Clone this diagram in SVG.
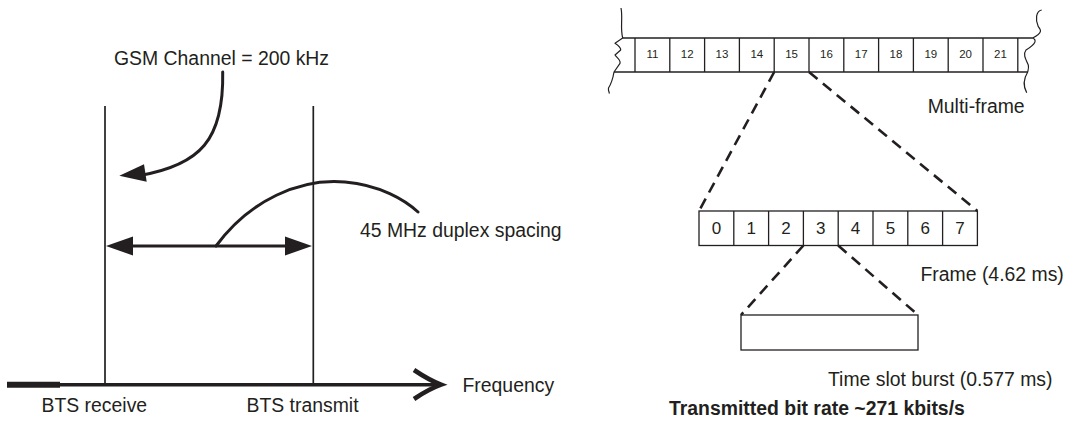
<svg xmlns="http://www.w3.org/2000/svg" width="1066" height="430" viewBox="0 0 1066 430">
  <style>
    text { font-family: "Liberation Sans", Arial, Helvetica, sans-serif; fill: #231f20; }
    .lbl { font-size: 19.4px; }
    .bold { font-size: 19.4px; font-weight: bold; }
    .mf { font-size: 11.5px; text-anchor: middle; }
    .fr { font-size: 17px; text-anchor: middle; }
    .thin { fill: none; stroke: #231f20; stroke-width: 1.3; }
    .wave { fill: none; stroke: #231f20; stroke-width: 1.2; stroke-linejoin: round; }
    .vline { stroke: #231f20; stroke-width: 1.7; }
    .dash { stroke: #231f20; stroke-width: 2.6; stroke-dasharray: 11 7; fill: none; }
    .curve { fill: none; stroke: #231f20; stroke-width: 3; stroke-linecap: round; }
    .head { fill: #231f20; }
  </style>

  <!-- Left: carrier spacing on the frequency axis -->
  <g id="bts-receive">
    <line class="vline" x1="105" y1="106" x2="105" y2="385"/>
    <text class="lbl" x="41.5" y="412">BTS receive</text>
  </g>
  <g id="bts-transmit">
    <line class="vline" x1="313.3" y1="106" x2="313.3" y2="385"/>
    <text class="lbl" x="246.5" y="412">BTS transmit</text>
  </g>
  <g id="frequency-axis">
    <line x1="7" y1="384.7" x2="60" y2="384.7" stroke="#231f20" stroke-width="6"/>
    <line x1="58" y1="384.7" x2="438" y2="384.7" stroke="#231f20" stroke-width="3.6"/>
    <path d="M414,370 Q429,380 441,384.7 Q429,389 414,399" fill="none" stroke="#231f20" stroke-width="4.6" stroke-linecap="butt" stroke-linejoin="miter"/>
    <text class="lbl" x="462.5" y="392">Frequency</text>
  </g>
  <g id="gsm-channel-label">
    <text class="lbl" x="114" y="65">GSM Channel = 200 kHz</text>
  </g>
  <g id="duplex-label">
    <text class="lbl" x="360" y="237">45 MHz duplex spacing</text>
  </g>

  <!-- Right: multi-frame / frame / burst -->
  <g id="multi-frame">
    <line class="thin" x1="622.7" y1="38" x2="1032.7" y2="38"/>
    <line class="thin" x1="614" y1="72" x2="1027.7" y2="72"/>
    <g class="thin">
      <line x1="635" y1="38" x2="635" y2="72"/>
      <line x1="669.8" y1="38" x2="669.8" y2="72"/>
      <line x1="704.6" y1="38" x2="704.6" y2="72"/>
      <line x1="739.4" y1="38" x2="739.4" y2="72"/>
      <line x1="774.2" y1="38" x2="774.2" y2="72"/>
      <line x1="809" y1="38" x2="809" y2="72"/>
      <line x1="843.8" y1="38" x2="843.8" y2="72"/>
      <line x1="878.6" y1="38" x2="878.6" y2="72"/>
      <line x1="913.4" y1="38" x2="913.4" y2="72"/>
      <line x1="948.2" y1="38" x2="948.2" y2="72"/>
      <line x1="983" y1="38" x2="983" y2="72"/>
      <line x1="1017.8" y1="38" x2="1017.8" y2="72"/>
    </g>
    <path class="wave" d="M621,8 C623,18 620,28 622.7,38 L615,43.3 C619,46 621,48 620.7,50 L615,55 C617,58 621,60 620,63.3 L614,72 C613,78 611,84 608.5,88 C608,90 609,92 609.5,93.5"/>
    <path class="wave" d="M1041.7,10 C1036,11 1035,20 1038.3,26.7 C1041,30 1043,33 1032.7,38 C1037,40 1036,44 1026,50 C1023,54 1025,58 1028.3,65 C1029,68 1028,70 1027.7,72 C1024,78 1023,86 1026.7,92.7"/>
    <text class="mf" x="652.4" y="58">11</text>
    <text class="mf" x="687.2" y="58">12</text>
    <text class="mf" x="722" y="58">13</text>
    <text class="mf" x="756.8" y="58">14</text>
    <text class="mf" x="791.6" y="58">15</text>
    <text class="mf" x="826.4" y="58">16</text>
    <text class="mf" x="861.2" y="58">17</text>
    <text class="mf" x="896" y="58">18</text>
    <text class="mf" x="930.8" y="58">19</text>
    <text class="mf" x="965.6" y="58">20</text>
    <text class="mf" x="1000.4" y="58">21</text>
    <text class="lbl" x="927.7" y="113.3">Multi-frame</text>
  </g>

  <g id="frame">
    <rect class="thin" x="699" y="211" width="278.4" height="34.5"/>
    <g class="thin">
      <line x1="733.8" y1="211" x2="733.8" y2="245.5"/>
      <line x1="768.6" y1="211" x2="768.6" y2="245.5"/>
      <line x1="803.4" y1="211" x2="803.4" y2="245.5"/>
      <line x1="838.2" y1="211" x2="838.2" y2="245.5"/>
      <line x1="873" y1="211" x2="873" y2="245.5"/>
      <line x1="907.8" y1="211" x2="907.8" y2="245.5"/>
      <line x1="942.6" y1="211" x2="942.6" y2="245.5"/>
    </g>
    <text class="fr" x="716.4" y="234">0</text>
    <text class="fr" x="751.2" y="234">1</text>
    <text class="fr" x="786" y="234">2</text>
    <text class="fr" x="820.8" y="234">3</text>
    <text class="fr" x="855.6" y="234">4</text>
    <text class="fr" x="890.4" y="234">5</text>
    <text class="fr" x="925.2" y="234">6</text>
    <text class="fr" x="960" y="234">7</text>
    <text class="lbl" x="920.5" y="280.5">Frame (4.62 ms)</text>
  </g>

  <g id="time-slot-burst">
    <rect class="thin" x="741" y="315" width="177" height="35"/>
    <text class="lbl" x="828" y="385.5">Time slot burst (0.577 ms)</text>
  </g>

  <g id="bit-rate">
    <text class="bold" x="669" y="415">Transmitted bit rate ~271 kbits/s</text>
  </g>

  <!-- Connectors -->
  <g id="connectors">
    <!-- GSM channel pointer -->
    <path class="curve" d="M222.7,72 C224,140 200,165 140,175.5"/>
    <polygon class="head" points="119.3,175.7 144,164.3 146.7,181.7"/>
    <!-- duplex spacing double arrow -->
    <line x1="130" y1="246" x2="289" y2="246" stroke="#231f20" stroke-width="3.2"/>
    <polygon class="head" points="106,246 133,236.5 133,255.5"/>
    <polygon class="head" points="312,246 285,236.5 285,255.5"/>
    <path class="curve" d="M216,246 C250,200 300,178 345,182 C380,185 405,200 418,212"/>
    <!-- zoom-in guides -->
    <line class="dash" x1="774.2" y1="72" x2="699" y2="211"/>
    <line class="dash" x1="809" y1="72" x2="977.4" y2="211"/>
    <line class="dash" x1="803.4" y1="245.5" x2="741" y2="315"/>
    <line class="dash" x1="838.2" y1="245.5" x2="918" y2="315"/>
  </g>
</svg>
